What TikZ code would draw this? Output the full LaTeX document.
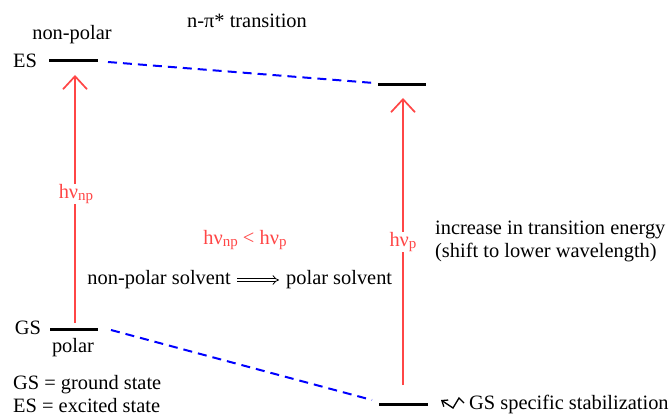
\documentclass[tikz,border=0pt]{standalone}
\usepackage{fontspec}
\setmainfont{Liberation Serif}
\usetikzlibrary{arrows.meta}
\definecolor{myred}{RGB}{255,70,70}
\newcommand{\sbs}[1]{\raisebox{-2.5pt}{\fontsize{15}{15}\selectfont #1}}
\begin{document}
\begin{tikzpicture}[x=1pt,y=-1pt,
  txt/.style={inner sep=0pt,font=\fontsize{20.4}{23}\selectfont},
  rtxt/.style={txt,text=myred},
  level/.style={line width=3pt,black},
  conn/.style={blue,line width=2pt,dash pattern=on 9pt off 6pt},
  exc/.style={myred,line width=1.7pt,-{Straight Barb[length=13pt,width=24pt,line width=1.7pt]}}]
\useasboundingbox[fill=white] (0,0) rectangle (672,417);
% levels
\coordinate (esl1) at (49,61); \coordinate (esl2) at (98,61);
\coordinate (esr1) at (378,85); \coordinate (esr2) at (426,85);
\coordinate (gsl1) at (50,329); \coordinate (gsl2) at (98,329);
\coordinate (gsr1) at (379,404); \coordinate (gsr2) at (428,404);
\draw[level] (esl1) -- (esl2);
\draw[level] (esr1) -- (esr2);
\draw[level] (gsl1) -- (gsl2);
\draw[level] (gsr1) -- (gsr2);
\coordinate (esd1) at (108,62); \coordinate (esd2) at (374,83);
\coordinate (gsd1) at (111,330); \coordinate (gsd2) at (372,400);
\draw[conn] (esd1) -- (esd2);
\draw[conn] (gsd1) -- (gsd2);
% texts
\node[txt] (tit) at (247,21) {n-π* transition};
\node[txt] (np) at (72,35) {non-polar};
\node[txt] (es) at (25,61) {ES};
\node[txt] (gs) at (28,328) {GS};
\node[txt] (pol) at (73,348) {polar};
\node[txt,anchor=west] (leg1) at (13,385) {GS = ground state};
\node[txt,anchor=west] (leg2) at (13,406) {ES = excited state};
\node[rtxt] (hnp) at (76,194) {hν\sbs{np}};
\node[rtxt] (hp) at (403,242) {hν\sbs{p}};
\node[rtxt] (cmp) at (245,240) {hν\sbs{np} < hν\sbs{p}};
\node[txt,anchor=east] (nps) at (231,280) {non-polar solvent};
\node[txt,anchor=west] (ps) at (286,280) {polar solvent};
\draw[double,double distance=2.5pt,line width=0.8pt,-{Implies}] (nps.east)++(6,0) coordinate (da) -- ([xshift=-7pt]ps.west);
\node[txt,anchor=west,align=left] (inc) at (435,241) {increase in transition energy\\(shift to lower wavelength)};
\node[txt,anchor=west] (gss) at (469,404) {GS specific stabilization};
% excitation arrows
\coordinate (al0) at (75,323); \coordinate (al1) at (75,75);
\coordinate (ar0) at (403,385); \coordinate (ar1) at (403,98);
\draw[myred,line width=1.7pt] (al0) -- (hnp.south -| al0);
\draw[exc] (hnp.north -| al1) -- (al1);
\draw[myred,line width=1.7pt] (ar0) -- (hp.south -| ar0);
\draw[exc] (hp.north -| ar1) -- (ar1);
% squiggle
\draw[line width=1.3pt,-{Straight Barb[length=5pt,width=8pt,line width=1.3pt]}] ([xshift=-5pt,yshift=1pt]gss.west) -- ++(-5,-5) -- ++(-6,10) -- ++(-12,-8);
\end{tikzpicture}
\end{document}
